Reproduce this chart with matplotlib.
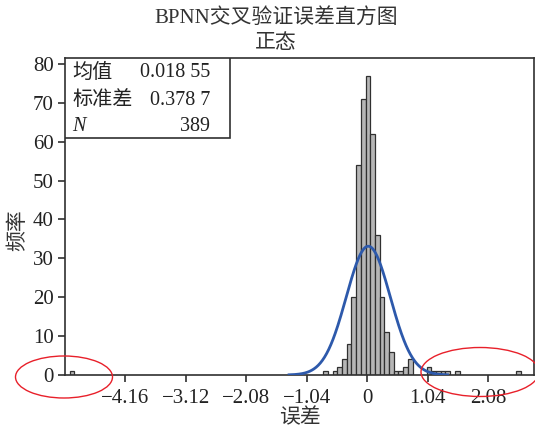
import numpy as np
import matplotlib.pyplot as plt
from matplotlib.patches import Rectangle, Ellipse

plt.rcParams['font.family'] = ['Liberation Serif', 'Noto Sans CJK SC']
plt.rcParams['axes.unicode_minus'] = True

# histogram of cross-validation errors (bin centres and counts)
bin_width = 0.0808
bin_centers = [-5.078, -0.715, -0.553, -0.472, -0.392, -0.311, -0.230, -0.149, -0.068,
               0.012, 0.093, 0.174, 0.255, 0.336, 0.416, 0.497, 0.578, 0.659, 0.740,
               1.063, 1.144, 1.224, 1.305, 1.386, 1.548, 2.598]
counts = [1, 1, 1, 2, 4, 8, 20, 54, 71,
          77, 62, 36, 20, 11, 6, 1, 1, 2, 4,
          2, 1, 1, 1, 1, 1, 1]

# summary stats
mean = 0.01855
std = 0.3787
n = 389

xticks = [-4.16, -3.12, -2.08, -1.04, 0, 1.04, 2.08]
xticklabels = ['\u22124.16', '\u22123.12', '\u22122.08', '\u22121.04', '0', '1.04', '2.08']
yticks = [0, 10, 20, 30, 40, 50, 60, 70, 80]

fig = plt.figure(figsize=(5.35, 4.34), dpi=100)
ax = fig.add_axes([65/535, 1-375/434, 469/535, 317/434])

ax.bar(bin_centers, counts, width=bin_width, color='#b6b6b6',
       edgecolor='#303030', linewidth=0.9, zorder=2)

# fitted normal curve
xs = np.linspace(mean - 3.6*std, mean + 3.6*std, 300)
pdf = n * bin_width / (std*np.sqrt(2*np.pi)) * np.exp(-0.5*((xs-mean)/std)**2)
ax.plot(xs, pdf, color='#2d59ab', linewidth=2.0, zorder=3)

ax.set_xlim(-5.20, 2.87)
ax.set_ylim(0, 81.5)
ax.set_xticks(xticks)
ax.set_xticklabels(xticklabels)
ax.set_yticks(yticks)
ax.tick_params(axis='both', labelsize=15, length=5, width=1.2, color='#303030',
               labelcolor='#222222')
ax.tick_params(axis='x', pad=5)
ax.tick_params(axis='y', pad=3)
for s in ax.spines.values():
    s.set_color('#303030')
    s.set_linewidth(1.2)

# axis labels
ax.text(0.5, -(419-375)/317, '误差', transform=ax.transAxes, ha='center', va='center',
        fontsize=15, color='#333333')
ax.text(-(65-18)/469, (375-230)/317, '频率', transform=ax.transAxes, ha='center',
        va='center', rotation=90, fontsize=15, color='#333333')

fig.text(0.516, 1-18/434, 'BPNN交叉验证误差直方图', ha='center', va='center',
         fontsize=15, color='#333333')
fig.text(0.516, 1-44/434, '正态', ha='center', va='center', fontsize=15, color='#333333')

# stats box
ax.add_patch(Rectangle((0, 0.748), 0.352, 0.252, transform=ax.transAxes,
                       facecolor='white', edgecolor='#303030', linewidth=1.2, zorder=4))
rows = [('均值', '0.018 55', 0.953), ('标准差', '0.378 7', 0.866), ('N', str(n), 0.785)]
for lab, val, yy in rows:
    ax.text(0.015, yy, lab, transform=ax.transAxes, ha='left', va='center',
            fontsize=14.5, color='#222222', zorder=5,
            style='italic' if lab == 'N' else 'normal')
    ax.text(0.309, yy, val, transform=ax.transAxes, ha='right', va='center',
            fontsize=14.5, color='#222222', zorder=5)

# red ellipses highlighting outliers
fig.patches.append(Ellipse((64/535, 1-377/434), 97/535, 42/434, transform=fig.transFigure,
                           fill=False, edgecolor='#e8202a', linewidth=1.0, zorder=10))
fig.patches.append(Ellipse((480/535, 1-372/434), 118/535, 49/434, transform=fig.transFigure,
                           fill=False, edgecolor='#e8202a', linewidth=1.0, zorder=10))

fig.savefig('out.png', dpi=100)
